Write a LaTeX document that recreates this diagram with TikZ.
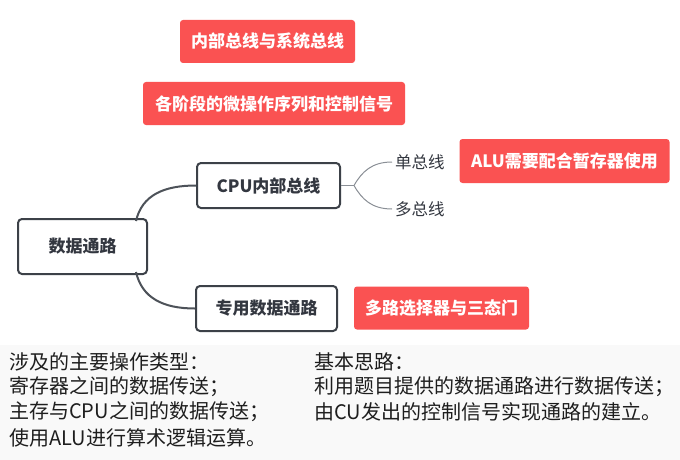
\documentclass[tikz,border=0pt]{standalone}
\usepackage{fontspec}
\setmainfont{Noto Sans CJK SC}
\newfontfamily\cjk{Noto Sans CJK SC}
\definecolor{boxline}{HTML}{3C4148}
\definecolor{branchc}{HTML}{4D5259}
\definecolor{subc}{HTML}{8A8F96}
\definecolor{txt}{HTML}{333740}
\definecolor{redc}{HTML}{FA5252}
\definecolor{noteb}{HTML}{F9F9F9}
\definecolor{notet}{HTML}{1E1E1E}
\begin{document}
\begin{tikzpicture}[x=1pt,y=-1pt,
  topic/.style={draw=boxline,line width=2pt,rounded corners=4pt,fill=white,
    text=txt,font=\fontsize{17}{19}\selectfont\bfseries,inner sep=0pt,anchor=center},
  tag/.style={fill=redc,rounded corners=3pt,text=white,
    font=\fontsize{17}{19}\selectfont\bfseries,inner sep=0pt,anchor=center},
  sub/.style={text=txt,font=\fontsize{16.5}{18}\selectfont,anchor=west,inner sep=3pt},
  branch/.style={draw=branchc,line width=2pt},
  subbranch/.style={draw=subc,line width=1pt},
  note/.style={text=notet,font=\fontsize{20}{23}\selectfont,anchor=west,inner sep=0pt}]
\fill[white] (0,0) rectangle (680,460);
\useasboundingbox (0,0) rectangle (680,460);
\fill[noteb] (0,345) rectangle (680,460);

\node[tag,minimum width=175pt,minimum height=43pt] (t1) at (267.5,41.5) {内部总线与系统总线};
\node[tag,minimum width=262pt,minimum height=43pt] (t2) at (274,103.5) {各阶段的微操作序列和控制信号};

\node[topic,minimum width=129pt,minimum height=55pt] (root) at (82.5,246.5) {数据通路};
\node[topic,minimum width=143pt,minimum height=45pt] (cpu) at (268.5,185.5) {CPU内部总线};
\node[topic,minimum width=141pt,minimum height=45pt] (ded) at (266.5,308.5) {专用数据通路};

\node[tag,minimum width=210pt,minimum height=44pt] (alu) at (564.5,161) {ALU需要配合暂存器使用};
\node[tag,minimum width=175pt,minimum height=43pt] (mux) at (441.5,308) {多路选择器与三态门};

\node[sub] (dan) at (392,162) {单总线};
\node[sub] (duo) at (392,209) {多总线};

\draw[branch] ([xshift=-12pt,yshift=-3pt]root.north east) .. controls +(6,-26) and +(-32,0) .. (cpu.west);
\draw[branch] ([xshift=-12pt,yshift=3pt]root.south east) .. controls +(6,26) and +(-32,0) .. (ded.west);
\draw[subbranch] (cpu.east) -- ++(13,0) coordinate (fork);
\draw[subbranch] (fork) .. controls +(8,-14) and +(-20,0) .. (dan.west);
\draw[subbranch] (fork) .. controls +(8,14) and +(-20,0) .. (duo.west);

\node[note] (l1) at (9,362) {涉及的主要操作类型：};
\node[note] (l2) at (9,387) {寄存器之间的数据传送；};
\node[note] (l3) at (9,412) {主存与CPU之间的数据传送；};
\node[note] (l4) at (9,438) {使用ALU进行算术逻辑运算。};
\node[note] (r1) at (314,362) {基本思路：};
\node[note] (r2) at (314,387) {利用题目提供的数据通路进行数据传送；};
\node[note] (r3) at (314,412) {由CU发出的控制信号实现通路的建立。};
\end{tikzpicture}
\end{document}
